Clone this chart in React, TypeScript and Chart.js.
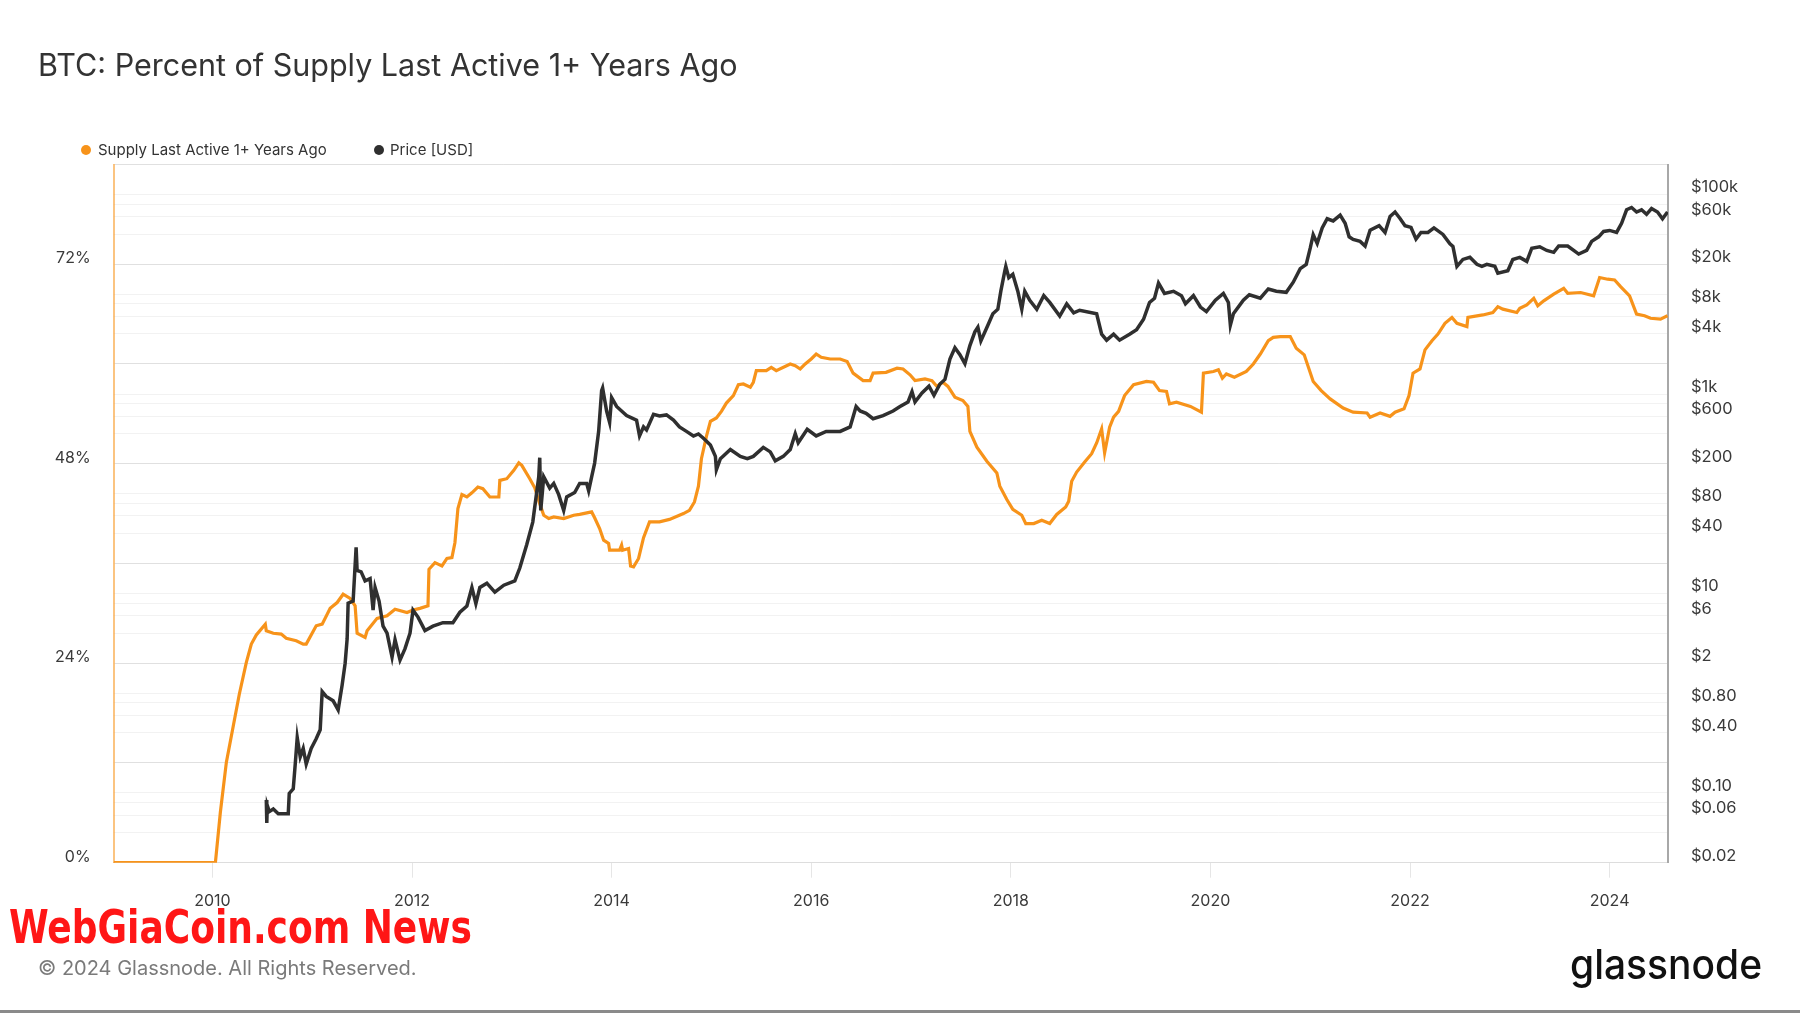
import React, { useEffect, useLayoutEffect, useRef } from 'react';
import { Chart, registerables } from 'chart.js';

Chart.register(...registerables);

// ---- Data ----
const supplyYears = [
  2009.01, 2010.03, 2010.08, 2010.14, 2010.21, 2010.27, 2010.34, 2010.39, 2010.44, 2010.53,
  2010.54, 2010.61, 2010.69, 2010.74, 2010.84, 2010.91, 2010.94, 2011.04, 2011.10, 2011.18,
  2011.25, 2011.31, 2011.38, 2011.43, 2011.45, 2011.53, 2011.55, 2011.65, 2011.75, 2011.83,
  2011.95, 2012.01, 2012.08, 2012.16, 2012.17, 2012.23, 2012.30, 2012.35, 2012.40, 2012.43,
  2012.46, 2012.50, 2012.55, 2012.60, 2012.66, 2012.71, 2012.78, 2012.87, 2012.88, 2012.95,
  2013.02, 2013.07, 2013.10, 2013.18, 2013.23, 2013.28, 2013.32, 2013.37, 2013.42, 2013.52,
  2013.62, 2013.68, 2013.80, 2013.83, 2013.88, 2013.92, 2013.97, 2013.98, 2014.08, 2014.10,
  2014.11, 2014.17, 2014.19, 2014.22, 2014.27, 2014.32, 2014.38, 2014.48, 2014.58, 2014.72,
  2014.78, 2014.83, 2014.87, 2014.90, 2014.95, 2014.99, 2015.05, 2015.10, 2015.15, 2015.22,
  2015.27, 2015.32, 2015.39, 2015.42, 2015.45, 2015.55, 2015.60, 2015.65, 2015.79, 2015.84,
  2015.89, 2015.94, 2016.00, 2016.05, 2016.10, 2016.19, 2016.29, 2016.36, 2016.42, 2016.52,
  2016.59, 2016.62, 2016.75, 2016.86, 2016.92, 2016.99, 2017.04, 2017.14, 2017.21, 2017.26,
  2017.32, 2017.37, 2017.44, 2017.52, 2017.57, 2017.59, 2017.66, 2017.76, 2017.86, 2017.89,
  2017.96, 2018.02, 2018.11, 2018.15, 2018.23, 2018.31, 2018.39, 2018.46, 2018.55, 2018.58,
  2018.61, 2018.66, 2018.74, 2018.81, 2018.86, 2018.91, 2018.94, 2018.99, 2019.03, 2019.08,
  2019.14, 2019.23, 2019.36, 2019.43, 2019.49, 2019.56, 2019.59, 2019.66, 2019.80, 2019.91,
  2019.93, 2020.03, 2020.08, 2020.12, 2020.16, 2020.24, 2020.36, 2020.43, 2020.50, 2020.58,
  2020.63, 2020.70, 2020.80, 2020.86, 2020.94, 2021.03, 2021.11, 2021.20, 2021.33, 2021.43,
  2021.57, 2021.60, 2021.70, 2021.80, 2021.85, 2021.94, 2021.99, 2022.03, 2022.10, 2022.15,
  2022.22, 2022.28, 2022.35, 2022.42, 2022.47, 2022.57, 2022.58, 2022.73, 2022.83, 2022.88,
  2022.93, 2023.07, 2023.10, 2023.17, 2023.24, 2023.28, 2023.34, 2023.44, 2023.54, 2023.58,
  2023.71, 2023.84, 2023.90, 2023.98, 2024.05, 2024.11, 2024.20, 2024.27, 2024.35, 2024.41,
  2024.51, 2024.58,
];

const supplyPct = [
  0, 0, 6.1, 12.1, 16.5, 20.3, 24.1, 26.3, 27.4, 28.7,
  27.9, 27.6, 27.5, 27.0, 26.7, 26.3, 26.3, 28.5, 28.7, 30.6,
  31.3, 32.3, 31.8, 30.9, 27.6, 27.1, 27.9, 29.4, 29.7, 30.5,
  30.1, 30.4, 30.6, 30.9, 35.3, 36.1, 35.7, 36.6, 36.7, 38.5,
  42.6, 44.3, 44.0, 44.5, 45.2, 45.0, 44.0, 44.0, 46.0, 46.2,
  47.2, 48.1, 47.8, 46.2, 45.1, 43.2, 41.8, 41.4, 41.6, 41.4,
  41.8, 41.9, 42.2, 41.5, 40.2, 38.8, 38.4, 37.6, 37.6, 38.2,
  37.6, 37.8, 35.7, 35.6, 36.6, 39.1, 41.0, 41.0, 41.3, 42.0,
  42.4, 43.4, 45.3, 48.6, 51.3, 53.1, 53.5, 54.3, 55.3, 56.2,
  57.5, 57.6, 57.2, 57.8, 59.2, 59.2, 59.6, 59.2, 60.0, 59.8,
  59.4, 60.0, 60.6, 61.2, 60.8, 60.6, 60.6, 60.3, 58.9, 58.0,
  58.0, 58.9, 59.0, 59.5, 59.4, 58.7, 58.0, 58.2, 58.0, 57.3,
  57.8, 57.3, 56.0, 55.6, 54.9, 51.9, 50.0, 48.3, 46.9, 45.3,
  43.7, 42.5, 41.8, 40.8, 40.8, 41.2, 40.8, 41.9, 42.8, 43.5,
  45.9, 47.0, 48.2, 49.2, 50.5, 52.2, 49.3, 52.4, 53.6, 54.3,
  56.2, 57.5, 57.9, 57.8, 56.8, 56.7, 55.2, 55.4, 54.9, 54.2,
  58.9, 59.1, 59.3, 58.3, 58.8, 58.4, 59.1, 60.0, 61.2, 62.8,
  63.2, 63.3, 63.3, 61.9, 61.1, 57.9, 56.8, 55.8, 54.7, 54.2,
  54.1, 53.6, 54.1, 53.7, 54.2, 54.6, 56.2, 58.9, 59.4, 61.7,
  62.8, 63.6, 64.9, 65.6, 64.9, 64.5, 65.6, 65.9, 66.2, 66.9,
  66.6, 66.2, 66.7, 67.1, 67.9, 67.0, 67.6, 68.4, 69.1, 68.5,
  68.6, 68.2, 70.4, 70.2, 70.1, 69.3, 68.2, 66.0, 65.8, 65.5,
  65.4, 65.8,
];

const priceYears = [
  2010.540, 2010.545, 2010.55, 2010.57, 2010.61, 2010.66, 2010.76, 2010.77, 2010.81, 2010.83,
  2010.85, 2010.88, 2010.91, 2010.94, 2010.99, 2011.04, 2011.08, 2011.10, 2011.14, 2011.21,
  2011.26, 2011.30, 2011.33, 2011.35, 2011.36, 2011.41, 2011.44, 2011.45, 2011.49, 2011.53,
  2011.58, 2011.61, 2011.63, 2011.67, 2011.71, 2011.75, 2011.80, 2011.83, 2011.88, 2011.93,
  2011.98, 2012.01, 2012.06, 2012.13, 2012.21, 2012.31, 2012.41, 2012.48, 2012.55, 2012.60,
  2012.64, 2012.68, 2012.75, 2012.83, 2012.92, 2013.03, 2013.08, 2013.15, 2013.21, 2013.27,
  2013.28, 2013.29, 2013.32, 2013.38, 2013.42, 2013.47, 2013.52, 2013.55, 2013.63, 2013.68,
  2013.75, 2013.77, 2013.80, 2013.83, 2013.87, 2013.90, 2013.91, 2013.95, 2013.98, 2014.00,
  2014.05, 2014.10, 2014.15, 2014.20, 2014.25, 2014.28, 2014.32, 2014.35, 2014.42, 2014.48,
  2014.55, 2014.62, 2014.68, 2014.75, 2014.82, 2014.87, 2014.92, 2014.99, 2015.04, 2015.05,
  2015.09, 2015.19, 2015.29, 2015.36, 2015.42, 2015.52, 2015.59, 2015.64, 2015.72, 2015.79,
  2015.84, 2015.87, 2015.96, 2016.05, 2016.15, 2016.29, 2016.39, 2016.45, 2016.49, 2016.55,
  2016.62, 2016.72, 2016.82, 2016.89, 2016.97, 2017.01, 2017.04, 2017.11, 2017.18, 2017.23,
  2017.29, 2017.34, 2017.39, 2017.44, 2017.49, 2017.54, 2017.59, 2017.64, 2017.67, 2017.70,
  2017.77, 2017.82, 2017.87, 2017.90, 2017.94, 2017.95, 2017.98, 2018.02, 2018.07, 2018.11,
  2018.14, 2018.19, 2018.26, 2018.33, 2018.39, 2018.49, 2018.56, 2018.63, 2018.69, 2018.86,
  2018.91, 2018.96, 2019.03, 2019.09, 2019.19, 2019.26, 2019.33, 2019.39, 2019.44, 2019.48,
  2019.54, 2019.63, 2019.71, 2019.75, 2019.83, 2019.90, 2019.96, 2020.05, 2020.13, 2020.18,
  2020.20, 2020.23, 2020.33, 2020.39, 2020.50, 2020.58, 2020.66, 2020.76, 2020.83, 2020.90,
  2020.96, 2021.00, 2021.03, 2021.07, 2021.12, 2021.17, 2021.23, 2021.30, 2021.35, 2021.39,
  2021.43, 2021.50, 2021.55, 2021.60, 2021.69, 2021.75, 2021.80, 2021.85, 2021.90, 2021.95,
  2022.01, 2022.06, 2022.11, 2022.18, 2022.24, 2022.33, 2022.40, 2022.43, 2022.47, 2022.53,
  2022.60, 2022.67, 2022.72, 2022.77, 2022.85, 2022.88, 2022.98, 2023.03, 2023.10, 2023.17,
  2023.22, 2023.30, 2023.37, 2023.44, 2023.49, 2023.58, 2023.64, 2023.69, 2023.77, 2023.82,
  2023.89, 2023.94, 2024.00, 2024.07, 2024.12, 2024.17, 2024.22, 2024.27, 2024.32, 2024.37,
  2024.42, 2024.48, 2024.53, 2024.58,
];

const priceUsd = [
  0.085, 0.05, 0.075, 0.065, 0.069, 0.062, 0.062, 0.099, 0.11, 0.195,
  0.36, 0.23, 0.28, 0.195, 0.28, 0.35, 0.43, 1.04, 0.93, 0.84,
  0.68, 1.21, 2.0, 3.5, 8.0, 8.4, 29, 17, 16.5, 13.4,
  14.1, 6.8, 11.5, 8.4, 4.7, 4.0, 2.3, 3.45, 2.15, 2.8,
  4.0, 6.8, 5.8, 4.25, 4.7, 5.1, 5.1, 6.5, 7.5, 11.5,
  7.9, 11.5, 12.7, 10.3, 12.1, 13.4, 18, 31, 52, 148,
  230, 68, 148, 114, 127, 98, 68, 93, 103, 127,
  127, 107, 148, 203, 420, 1080, 1150, 675, 520, 920,
  750, 675, 607, 577, 547, 380, 468, 437, 627, 603,
  617, 547, 468, 422, 379, 398, 360, 308, 237, 174,
  225, 278, 237, 225, 237, 292, 263, 214, 237, 278,
  400, 324, 443, 380, 422, 422, 468, 748, 676, 640,
  565, 607, 676, 748, 832, 1054, 832, 1023, 1197, 971,
  1259, 1400, 2239, 2904, 2483, 2018, 3062, 4198, 4677, 3404,
  4898, 6368, 7079, 10740, 17140, 19050, 14690, 15850, 10740, 7079,
  10720, 8710, 7079, 9683, 8279, 6039, 8017, 6501, 6918, 6368,
  3981, 3467, 3981, 3467, 3981, 4416, 5610, 8279, 9120, 12940,
  10190, 10720, 9683, 8017, 9683, 7447, 6699, 8710, 10190, 8279,
  4898, 6368, 8710, 9886, 9120, 11300, 10720, 10470, 13210, 18070,
  19950, 28970, 39540, 32360, 46340, 57150, 54330, 62090, 51520, 37670,
  35480, 33880, 30480, 43950, 48750, 41690, 60260, 66830, 57540, 48750,
  46770, 35730, 41690, 41690, 46340, 39810, 32140, 30200, 19050, 22340,
  23500, 19950, 19050, 19950, 19050, 16290, 17180, 22340, 23440, 21380,
  28970, 29920, 27480, 26300, 30480, 30480, 27540, 25290, 27540, 33880,
  37670, 42660, 43650, 41690, 51520, 70310, 74130, 66830, 70310, 63390,
  72440, 66830, 57150, 66830,
];

const yearTicks = [2010, 2012, 2014, 2016, 2018, 2020, 2022, 2024];
const pctGridTicks = [0, 12, 24, 36, 48, 60, 72, 84];
const pctLabelTicks = [0, 24, 48, 72];
const priceGridTicks = [
  0.02, 0.04, 0.06, 0.08, 0.1, 0.2, 0.4, 0.6, 0.8, 1, 2, 4, 6, 8, 10, 20, 40, 60, 80, 100,
  200, 400, 600, 800, 1000, 2000, 4000, 6000, 8000, 10000, 20000, 40000, 60000, 80000, 100000, 200000,
];
const priceTickLabels = [
  '$0.02', '', '$0.06', '', '$0.10', '', '$0.40', '', '$0.80', '', '$2', '', '$6', '', '$10', '', '$40', '', '$80', '',
  '$200', '', '$600', '', '$1k', '', '$4k', '', '$8k', '', '$20k', '', '$60k', '', '$100k', '',
];

const ORANGE = '#f7931a';
const DARK = '#2f2f2f';
const FONT = 'Inter, "Noto Sans", sans-serif';

function FitText(props: { text: string; width: number; style: React.CSSProperties }) {
  const ref = useRef<HTMLSpanElement | null>(null);
  useLayoutEffect(() => {
    const el = ref.current;
    if (!el) return;
    const fit = () => {
      el.style.transform = 'none';
      const w = el.offsetWidth;
      if (w > 0) el.style.transform = `scaleX(${props.width / w})`;
    };
    fit();
    if ((document as any).fonts && (document as any).fonts.ready) {
      (document as any).fonts.ready.then(fit);
    }
  }, [props.text, props.width]);
  return (
    <span
      ref={ref}
      style={{ position: 'absolute', whiteSpace: 'nowrap', transformOrigin: '0 0', display: 'inline-block', ...props.style }}
    >
      {props.text}
    </span>
  );
}

export default function App() {
  const canvasRef = useRef<HTMLCanvasElement | null>(null);

  useEffect(() => {
    document.body.style.margin = '0';
    const canvas = canvasRef.current;
    if (!canvas) return;
    const chartBottom = 862.7;
    const xAxisHeight = 60;
    const chart = new Chart(canvas, {
      type: 'line',
      data: {
        datasets: [
          {
            label: 'Price [USD]',
            data: priceYears.map((x, i) => ({ x, y: priceUsd[i] })),
            yAxisID: 'y1',
            borderColor: DARK,
            borderWidth: 3.5,
            pointRadius: 0,
            tension: 0,
            order: 0,
          },
          {
            label: 'Supply Last Active 1+ Years Ago',
            data: supplyYears.map((x, i) => ({ x, y: supplyPct[i] })),
            yAxisID: 'y',
            borderColor: ORANGE,
            borderWidth: 3.2,
            pointRadius: 0,
            tension: 0,
            order: 1,
          },
        ],
      },
      options: {
        responsive: false,
        animation: false,
        devicePixelRatio: 1,
        layout: { padding: { top: 164.5, left: 0, right: 0, bottom: 1013 - chartBottom - xAxisHeight } },
        plugins: { legend: { display: false }, title: { display: false }, tooltip: { enabled: false } },
        scales: {
          x: {
            type: 'linear',
            min: 2009.01,
            max: 2024.585,
            afterBuildTicks: (s: any) => {
              s.ticks = yearTicks.map((v) => ({ value: v }));
            },
            afterFit: (s: any) => {
              s.height = xAxisHeight;
            },
            grid: { drawOnChartArea: false, drawTicks: true, tickLength: 15, color: '#e6e6e6' },
            border: { display: true, color: '#dddddd', width: 1 },
            ticks: {
              autoSkip: false,
              maxRotation: 0,
              padding: 13.5,
              color: '#3a3a3a',
              font: { family: FONT, size: 16 },
              callback: (v: any) => String(v),
            },
          },
          y: {
            type: 'linear',
            position: 'left',
            min: 0,
            max: 84,
            afterBuildTicks: (s: any) => {
              s.ticks = pctGridTicks.map((v) => ({ value: v }));
            },
            afterFit: (s: any) => {
              s.width = 113.6;
            },
            grid: { color: 'rgba(0,0,0,0.075)', drawTicks: false },
            border: { display: true, color: 'rgba(247,147,26,0.55)', width: 2 },
            ticks: {
              autoSkip: false,
              padding: 23,
              labelOffset: -6,
              color: '#3a3a3a',
              font: { family: FONT, size: 16 },
              callback: (v: any) => (pctLabelTicks.includes(Number(v)) ? `${v}%` : ''),
            },
          },
          y1: {
            type: 'logarithmic',
            position: 'right',
            min: 0.02,
            max: 200000,
            afterBuildTicks: (s: any) => {
              s.ticks = priceGridTicks.map((v) => ({ value: v }));
            },
            afterFit: (s: any) => {
              s.width = 1800 - 1668;
            },
            grid: { color: 'rgba(0,0,0,0.05)', drawTicks: false },
            border: { display: true, color: '#a8a8a8', width: 2 },
            ticks: {
              autoSkip: false,
              padding: 23,
              labelOffset: -7,
              color: '#3a3a3a',
              font: { family: FONT, size: 16.5 },
              callback: (_v: any, i: number) => priceTickLabels[i],
            },
          },
        },
      },
    } as any);
    return () => chart.destroy();
  }, []);

  return (
    <div
      style={{
        position: 'relative',
        width: 1800,
        height: 1013,
        background: '#ffffff',
        overflow: 'hidden',
        fontFamily: FONT,
      }}
    >
      <canvas ref={canvasRef} width={1800} height={1013} style={{ position: 'absolute', left: 0, top: 0, width: 1800, height: 1013 }} />
      <div style={{ position: 'absolute', left: 38, top: 49.5, fontSize: 30.5, lineHeight: '30.5px', color: '#333', whiteSpace: 'nowrap' }}>
        BTC: Percent of Supply Last Active 1+ Years Ago
      </div>
      <div style={{ position: 'absolute', left: 81, top: 145, width: 10, height: 10, borderRadius: '50%', background: ORANGE }} />
      <div style={{ position: 'absolute', left: 98, top: 142, fontSize: 15, lineHeight: '15px', color: '#333', whiteSpace: 'nowrap' }}>
        Supply Last Active 1+ Years Ago
      </div>
      <div style={{ position: 'absolute', left: 374, top: 145, width: 10, height: 10, borderRadius: '50%', background: DARK }} />
      <div style={{ position: 'absolute', left: 390, top: 142, fontSize: 15, lineHeight: '15px', color: '#333', whiteSpace: 'nowrap' }}>
        Price [USD]
      </div>
      <FitText
        text="WebGiaCoin.com News"
        width={463}
        style={{
          left: 9,
          top: 904,
          fontFamily: '"DejaVu Sans Condensed", "DejaVu Sans", sans-serif',
          fontWeight: 700,
          fontSize: 46,
          lineHeight: '46px',
          color: '#ff1616',
        }}
      />
      <div style={{ position: 'absolute', left: 38, top: 958, fontSize: 20, lineHeight: '20px', color: '#7a7a7a', whiteSpace: 'nowrap' }}>
        © 2024 Glassnode. All Rights Reserved.
      </div>
      <FitText
        text="glassnode"
        width={192}
        style={{ left: 1570, top: 944, fontSize: 41, lineHeight: '41px', fontWeight: 500, color: '#111', fontFamily: FONT }}
      />
      <div style={{ position: 'absolute', left: 0, top: 1010, width: 1800, height: 3, background: '#8a8a8a' }} />
    </div>
  );
}
